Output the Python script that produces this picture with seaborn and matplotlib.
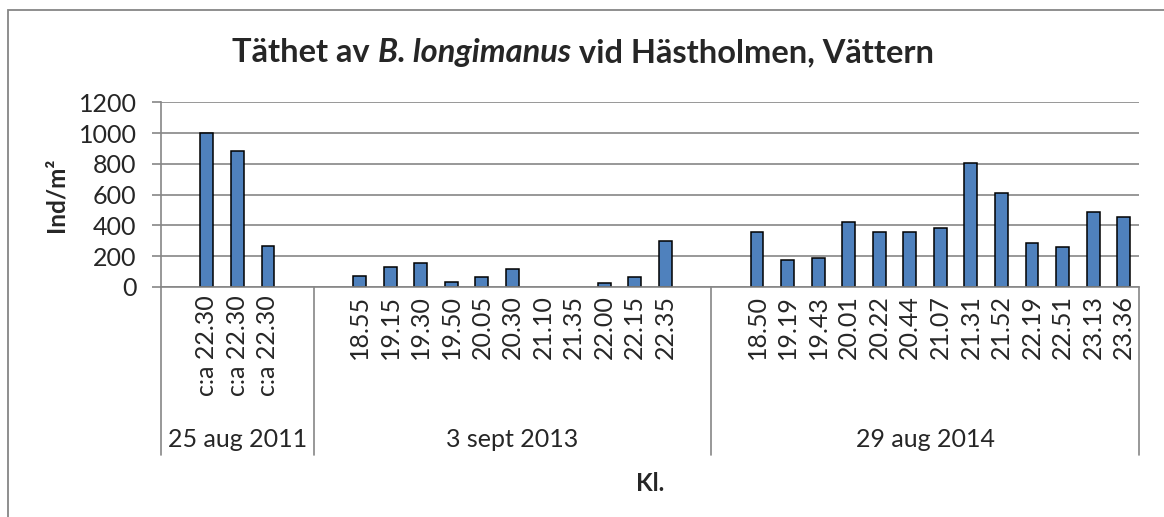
import numpy as np
import pandas as pd
import seaborn as sns
import matplotlib.pyplot as plt
import matplotlib.transforms as mtransforms
from matplotlib.patches import Rectangle

# data (empty strings / NaN = empty category slots)
groups = ["25 aug 2011", "3 sept 2013", "29 aug 2014"]
times_2011 = ["", "c:a 22.30", "c:a 22.30", "c:a 22.30", ""]
dens_2011 = [np.nan, 1003, 885, 266, np.nan]
times_2013 = ["", "18.55", "19.15", "19.30", "19.50", "20.05", "20.30",
              "21.10", "21.35", "22.00", "22.15", "22.35", ""]
dens_2013 = [np.nan, 74, 133, 153, 32, 63, 114, 0, 0, 23, 62, 296, np.nan]
times_2014 = ["", "18.50", "19.19", "19.43", "20.01", "20.22", "20.44",
              "21.07", "21.31", "21.52", "22.19", "22.51", "23.13", "23.36"]
dens_2014 = [np.nan, 358, 175, 186, 425, 355, 355, 383, 808, 611, 283, 262, 488, 458]

times = times_2011 + times_2013 + times_2014
dens = dens_2011 + dens_2013 + dens_2014
sizes = [len(times_2011), len(times_2013), len(times_2014)]

df = pd.DataFrame({"slot": range(len(times)), "density": dens})

sns.set_style("white")
plt.rcParams["font.family"] = ["Lato", "DejaVu Sans"]

W, H = 1164, 517
fig = plt.figure(figsize=(W / 100, H / 100), dpi=100)
x0, x1, y0, y1 = 161, 1139, 287, 102.3
ax = fig.add_axes([x0 / W, 1 - y0 / H, (x1 - x0) / W, (y0 - y1) / H])

grey = "#868686"
fs = 18
sns.barplot(data=df.dropna(), x="slot", y="density", order=list(df["slot"]),
            color="#4F81BD", edgecolor="black", linewidth=1.1, width=0.42,
            saturation=1, errorbar=None, ax=ax)
for p in ax.patches:
    if p.get_height() == 0:
        p.set_linewidth(0)

ax.set_xlim(-0.5, len(times) - 0.5)
ax.set_ylim(0, 1200)
ax.set_yticks(range(0, 1201, 200))
ax.yaxis.grid(True, color=grey, lw=1.2)
ax.set_axisbelow(True)
for s in ["top", "right"]:
    ax.spines[s].set_visible(False)
for s in ["left", "bottom"]:
    ax.spines[s].set_color(grey)
    ax.spines[s].set_linewidth(1.2)

ax.set_xticks(range(len(times)))
ax.set_xticklabels(times, rotation=90)
ax.set_xticks(np.arange(len(times) + 1) - 0.5, minor=True)
ax.tick_params(axis="x", which="major", length=0, pad=6, labelsize=fs)
ax.tick_params(axis="x", which="minor", length=83.5, width=1.2, color=grey, direction="out")
ax.tick_params(axis="y", length=6.5, width=1.2, color=grey, pad=11, labelsize=fs, left=True)

# long separator lines and group labels under the category labels
trans = mtransforms.blended_transform_factory(ax.transData, ax.transAxes)
bounds = np.concatenate([[0], np.cumsum(sizes)]) - 0.5
for b in bounds:
    ax.plot([b, b], [0, -0.9096], transform=trans, color=grey, lw=1.2, clip_on=False)
for g, a, b in zip(groups, bounds[:-1], bounds[1:]):
    ax.text((a + b) / 2, -0.866, g, transform=trans, ha="center", va="baseline", fontsize=fs)

ax.set_xlabel("Kl.", fontsize=17.5, fontweight="bold")
ax.xaxis.set_label_coords(0.5, -1.0)
ax.set_ylabel("Ind/m²", fontsize=17.5, fontweight="bold")
ax.yaxis.set_label_coords(-0.096, 0.5)

# title with italic species name
parts = [("Täthet av ", "normal"), ("B. longimanus", "italic"),
         (" vid Hästholmen, Vättern", "normal")]
texts = [fig.text(0, 1 - 62 / H, t, fontsize=23.5, fontweight="bold", style=st, va="baseline")
         for t, st in parts]
r = fig.canvas.get_renderer()
widths = [t.get_window_extent(r).width for t in texts]
xs = 583 - sum(widths) / 2
for t, w in zip(texts, widths):
    t.set_x(xs / W)
    xs += w

# chart area border (right and bottom fall outside the image)
fig.patches.append(Rectangle((8.3 / W, -0.2), 1.2, 1.2 - 9.7 / H, transform=fig.transFigure,
                             fill=False, edgecolor=grey, lw=1.3))

fig.savefig("out.png", dpi=100)
